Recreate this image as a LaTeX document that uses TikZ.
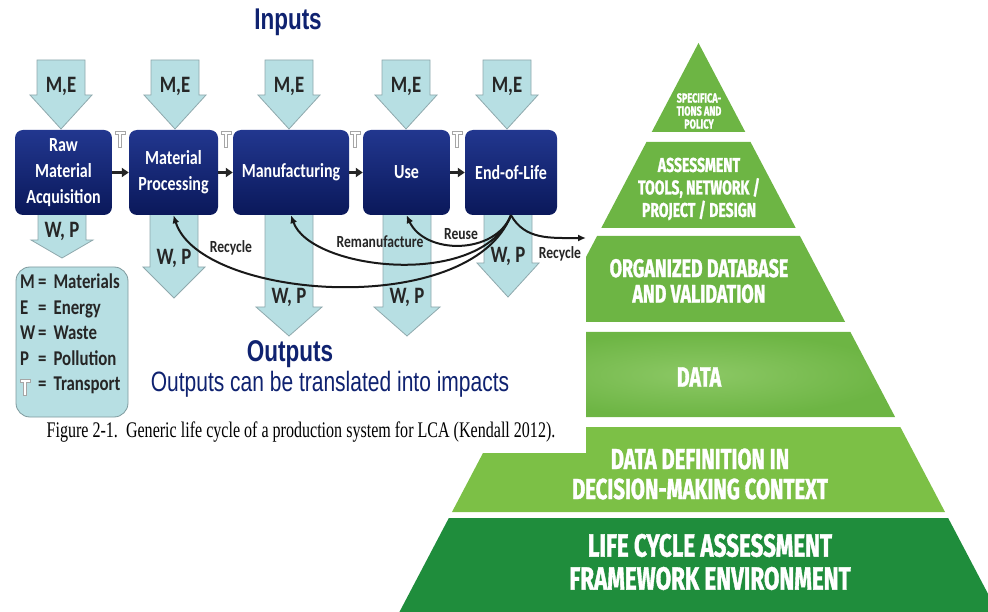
\documentclass[tikz,border=0pt]{standalone}
\usepackage{fontspec}
\setmainfont{Liberation Serif}
\newfontfamily\boxfont[FakeStretch=0.8]{Carlito}
\newfontfamily\headfont[FakeStretch=0.75]{Liberation Sans}
\newfontfamily\capfont[FakeStretch=0.72]{Liberation Serif}
\newfontfamily\pyrfont[FakeStretch=0.7, FakeBold=1.2]{Fira Sans}
\usetikzlibrary{positioning, arrows.meta}
\definecolor{lcnavy}{HTML}{0F2270}
\definecolor{boxtop}{HTML}{22378F}
\definecolor{boxbot}{HTML}{0A185A}
\definecolor{arrfill}{HTML}{B7DFE3}
\definecolor{arrline}{HTML}{8FA9AD}
\definecolor{legline}{HTML}{7F9A9E}
\definecolor{pyrgreen}{HTML}{6DB544}
\definecolor{pyrlight}{HTML}{8CC865}
\definecolor{pyrpale}{HTML}{7CC046}
\definecolor{pyrdark}{HTML}{1F8D3C}
\tikzset{
    lcbox/.style    = {draw=none, rounded corners=8pt, top color=boxtop, bottom color=boxbot,
                       text=white, align=center, minimum height=85pt, inner sep=2pt,
                       font=\boxfont\bfseries\fontsize{20}{26}\selectfont},
    fatarr/.style   = {draw=arrline, fill=arrfill, line width=0.8pt, line join=miter},
    flow/.style     = {-{Triangle[length=7pt,width=9pt]}, line width=2.6pt, draw=black!85},
    loop/.style     = {-{Latex[length=8pt,width=7pt]}, line width=2pt, draw=black!90},
    qty/.style      = {font=\boxfont\bfseries\fontsize{23.5}{24}\selectfont, text=black!85, inner sep=0pt},
    looplbl/.style  = {font=\boxfont\bfseries\fontsize{17}{18}\selectfont, text=black!85, inner sep=0pt},
    headline/.style = {font=\headfont\bfseries\fontsize{30}{32}\selectfont, text=lcnavy, inner sep=0pt},
    subline/.style  = {font=\headfont\fontsize{28}{30}\selectfont, text=lcnavy, inner sep=0pt},
    capline/.style  = {font=\capfont\fontsize{22.3}{24}\selectfont, inner sep=0pt},
    legend/.style   = {draw=legline, fill=arrfill, rounded corners=14pt, line width=0.8pt,
                       minimum width=112pt, minimum height=150pt, inner sep=0pt},
    keytxt/.style   = {align=left, inner sep=0pt, text=black!85,
                       font=\boxfont\bfseries\fontsize{21}{25.5}\selectfont},
    pyrtxt/.style   = {text=white, align=center, inner sep=0pt},
    pics/tsym/.style = {code={
        \draw[draw=black!35, fill=white, line width=0.7pt]
            (-5,-8) -- (5,-8) -- (5,-5) -- (1.6,-5) -- (1.6,8) -- (-1.6,8)
            -- (-1.6,-5) -- (-5,-5) -- cycle;}}
}
% block arrow: centre x, top, head start, tip, head half width
\newcommand{\fatdown}[5]{%
    \draw[fatarr] ({#1-24},#2) -- ({#1+24},#2) -- ({#1+24},#3) -- ({#1+#5},#3)
        -- (#1,#4) -- ({#1-#5},#3) -- ({#1-24},#3) -- cycle;}
% pyramid layer: top y, bottom y, paint
\newcommand{\pyrlayer}[3]{%
    \path[#3] ({698.5-0.5256*(#1-43)},#1) -- ({698.5+0.5256*(#1-43)},#1)
        -- ({698.5+0.5256*(#2-43)},#2) -- ({698.5-0.5256*(#2-43)},#2) -- cycle;}
\newcommand{\keyline}[2]{\makebox[18pt][l]{#1}=\,\,#2}

\begin{document}
\begin{tikzpicture}[x=1pt, y=-1pt]
    \clip (0,0) rectangle (988,612);

    % pyramid
    \pyrlayer{43}{132}{fill=pyrgreen}
    \pyrlayer{142}{228}{fill=pyrgreen}
    \pyrlayer{236}{322}{fill=pyrgreen}
    \pyrlayer{332}{417}{inner color=pyrlight, outer color=pyrgreen}
    \pyrlayer{427}{512}{fill=pyrpale}
    \pyrlayer{518}{650}{fill=pyrdark}

    \fill[white] (0,0) rectangle (586,453);

    \node[pyrtxt, font=\pyrfont\bfseries\fontsize{13}{13}\selectfont] (spec) at (699,111)
        {SPECIFICA-\\TIONS AND\\POLICY};
    \node[pyrtxt, font=\pyrfont\bfseries\fontsize{20}{22.5}\selectfont] (tools) at (699,189)
        {ASSESSMENT\\TOOLS, NETWORK /\\PROJECT / DESIGN};
    \node[pyrtxt, font=\pyrfont\bfseries\fontsize{25.5}{25.5}\selectfont] (orgdb) at (699,281)
        {ORGANIZED DATABASE\\AND VALIDATION};
    \node[pyrtxt, font=\pyrfont\bfseries\fontsize{28}{28}\selectfont] (data) at (699,377) {DATA};
    \node[pyrtxt, font=\pyrfont\bfseries\fontsize{29}{30}\selectfont] (datadef) at (700,474)
        {DATA DEFINITION IN\\DECISION-MAKING CONTEXT};
    \node[pyrtxt, font=\pyrfont\bfseries\fontsize{32}{33}\selectfont] (lcafw) at (710,562)
        {LIFE CYCLE ASSESSMENT\\FRAMEWORK ENVIRONMENT};

    % life cycle figure
    \node[headline] (inputs) at (288,22) {Inputs};

    \foreach \cx/\nm in {61/me1, 175/me2, 289/me3, 406/me4, 507/me5} {
        \fatdown{\cx}{60}{95}{129}{31}
        \node[qty] (\nm) at (\cx,86) {M,E};
    }

    \fatdown{62}{210}{240}{258}{31}
    \fatdown{174}{210}{267}{298}{31}
    \fatdown{289}{210}{307}{336}{33}
    \fatdown{407}{210}{307}{336}{33}
    \fatdown{508}{210}{263}{297}{31}
    \node[qty] (wp1) at (62,231)  {W, P};
    \node[qty] (wp2) at (174,258) {W, P};
    \node[qty] (wp3) at (289,297) {W, P};
    \node[qty] (wp4) at (407,297) {W, P};
    \node[qty] (wp5) at (508,256) {W, P};

    \node[lcbox, minimum width=97pt]  (raw)  at (63.5,172.5) {Raw\\Material\\Acquisition};
    \node[lcbox, minimum width=89pt]  (proc) at (173.5,172.5) {Material\\Processing};
    \node[lcbox, minimum width=116pt] (manu) at (291,172.5) {Manufacturing};
    \node[lcbox, minimum width=87pt]  (use)  at (406.5,172.5) {Use};
    \node[lcbox, minimum width=92pt]  (eol)  at (511,172.5) {End-of-Life};

    \foreach \a/\b in {raw/proc, proc/manu, manu/use, use/eol}
        \draw[flow] (\a.east) -- (\b.west);
    \foreach \tx in {120, 226, 355, 457}
        \pic at (\tx,139) {tsym};

    \coordinate (outrec) at (586,238);
    \draw[loop] (eol.south) .. controls (495,255) and (425,255) .. (use.south);
    \draw[loop] (eol.south) .. controls (480,290) and (310,270) .. (manu.south);
    \draw[loop] (eol.south) .. controls (470,320) and (200,300) .. (proc.south);
    \draw[loop] (eol.south) .. controls (525,240) and (550,238) .. (outrec);
    \node[looplbl] (reuse)  at (461,234) {Reuse};
    \node[looplbl] (reman)  at (380,242) {Remanufacture};
    \node[looplbl] (recyc1) at (231,248) {Recycle};
    \node[looplbl] (recyc2) at (560,254) {Recycle};

    \node[legend] (key) at (72,342) {};
    \node[keytxt, anchor=north west] (keytxt) at (20,274)
        {\keyline{M}{Materials}\\\keyline{E}{Energy}\\\keyline{W}{Waste}\\
         \keyline{P}{Pollution}\\\keyline{}{Transport}};
    \pic at (25,387) {tsym};

    \node[headline] (outputs) at (290,354) {Outputs};
    \node[subline]  (impacts) at (330,384) {Outputs can be translated into impacts};
    \node[capline]  (caption) at (301,432)
        {Figure 2-1.\ \ Generic life cycle of a production system for LCA (Kendall 2012).};
\end{tikzpicture}
\end{document}
